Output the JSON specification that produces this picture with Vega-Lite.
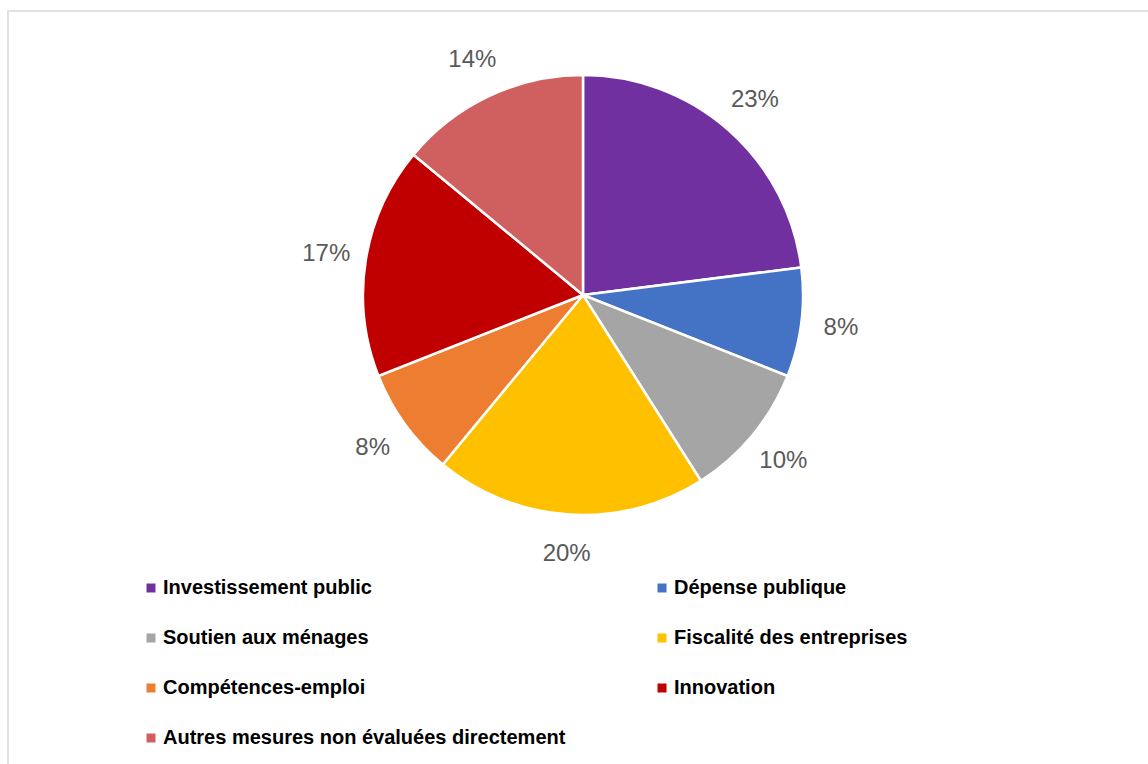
{
  "$schema": "https://vega.github.io/schema/vega-lite/v6.json",
  "width": 1142,
  "height": 755,
  "autosize": {"type": "none"},
  "padding": {"left": 8, "top": 11, "right": 0, "bottom": 0},
  "background": "white",
  "config": {"view": {"stroke": null}},
  "data": {
    "values": [
      {"cat": "Investissement public", "value": 23, "label": "23%", "k": 1},
      {"cat": "Dépense publique", "value": 8, "label": "8%", "k": 2},
      {"cat": "Soutien aux ménages", "value": 10, "label": "10%", "k": 3},
      {"cat": "Fiscalité des entreprises", "value": 20, "label": "20%", "k": 4},
      {"cat": "Compétences-emploi", "value": 8, "label": "8%", "k": 5},
      {"cat": "Innovation", "value": 17, "label": "17%", "k": 6},
      {"cat": "Autres mesures non évaluées directement", "value": 14, "label": "14%", "k": 7}
    ]
  },
  "layer": [
    {
      "data": {"values": [{"frame": 1}]},
      "mark": {"type": "rect", "x": 0, "y": 0, "x2": {"expr": "width"}, "y2": {"expr": "height"}, "fill": null, "stroke": "#d9d9d9", "strokeWidth": 1.5},
      "encoding": {}
    },
    {
      "mark": {"type": "arc", "outerRadius": 220, "stroke": "white", "strokeWidth": 2.5, "x": 575, "y": 284},
      "encoding": {
        "theta": {"field": "value", "type": "quantitative", "stack": true},
        "order": {"field": "k", "type": "quantitative"},
        "color": {
          "field": "cat",
          "type": "nominal",
          "scale": {
            "domain": ["Investissement public", "Dépense publique", "Soutien aux ménages", "Fiscalité des entreprises", "Compétences-emploi", "Innovation", "Autres mesures non évaluées directement"],
            "range": ["#7030a0", "#4472c4", "#a5a5a5", "#ffc000", "#ed7d31", "#c00000", "#d06060"]
          },
          "legend": {
            "title": null,
            "orient": "none",
            "legendX": 133,
            "legendY": 567,
            "direction": "horizontal",
            "columns": 2,
            "columnPadding": 86,
            "rowPadding": 30,
            "symbolType": "square",
            "symbolSize": 81,
            "symbolStrokeWidth": 0,
            "symbolOpacity": 1,
            "labelFont": "Liberation Sans",
            "labelFontWeight": "bold",
            "labelFontSize": 20,
            "labelColor": "black",
            "labelLimit": 0,
            "labelOffset": 2
          }
        }
      }
    },
    {
      "mark": {"type": "text", "radius": 260, "x": 575, "y": 284, "font": "Liberation Sans", "fontSize": 24, "fill": "#595959"},
      "encoding": {
        "theta": {"field": "value", "type": "quantitative", "stack": true},
        "order": {"field": "k", "type": "quantitative"},
        "text": {"field": "label", "type": "nominal"}
      }
    }
  ]
}
